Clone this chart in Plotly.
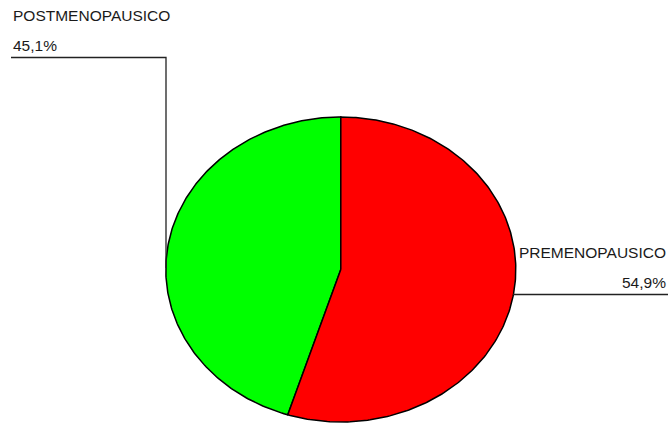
import numpy as np
import plotly.graph_objects as go

# Menopausal status distribution (%)
categories = ["POSTMENOPAUSICO", "PREMENOPAUSICO"]
percentages = [45.1, 54.9]
slice_colors = ["#00ff00", "#ff0000"]

W, H = 672, 424
# Elliptical pie placement, in page pixels
cx, cy = 340.8, 269.5
rx, ry = 175.0, 152.5

fig = go.Figure()

total = sum(percentages)
start = 0.0  # fraction of a turn, counter-clockwise from 12 o'clock
for name, val, col in zip(categories, percentages, slice_colors):
    frac = val / total
    t = np.linspace(start, start + frac, 240) * 2 * np.pi
    xs = np.concatenate([[cx], cx - rx * np.sin(t), [cx]])
    ys = np.concatenate([[cy], cy - ry * np.cos(t), [cy]])
    fig.add_trace(go.Scatter(
        x=xs, y=ys, mode="lines", fill="toself", fillcolor=col,
        line=dict(color="black", width=1.5), name=name,
        hoverinfo="name", showlegend=False,
    ))
    start += frac


def fmt(v):
    return f"{v:.1f}%".replace(".", ",")


# Leader lines
fig.add_trace(go.Scatter(
    x=[11, 166, 166], y=[57.5, 57.5, 268], mode="lines",
    line=dict(color="#222222", width=1.3), hoverinfo="skip", showlegend=False,
))
fig.add_trace(go.Scatter(
    x=[513, 668], y=[294.5, 294.5], mode="lines",
    line=dict(color="#222222", width=1.3), hoverinfo="skip", showlegend=False,
))

font = dict(family="Liberation Sans, Arial, sans-serif", size=15.5, color="#1a1a1a")
fig.add_annotation(x=11, y=15.5, text=categories[0], showarrow=False,
                   xanchor="left", yanchor="middle", font=font)
fig.add_annotation(x=11, y=45, text=fmt(percentages[0]), showarrow=False,
                   xanchor="left", yanchor="middle", font=font)
fig.add_annotation(x=668, y=252, text=categories[1], showarrow=False,
                   xanchor="right", yanchor="middle", font=font)
fig.add_annotation(x=668, y=282, text=fmt(percentages[1]), showarrow=False,
                   xanchor="right", yanchor="middle", font=font)

fig.update_xaxes(range=[0, W], visible=False, fixedrange=True)
fig.update_yaxes(range=[H, 0], visible=False, fixedrange=True)
fig.update_layout(
    width=W, height=H, margin=dict(l=0, r=0, t=0, b=0),
    paper_bgcolor="white", plot_bgcolor="white",
)

fig.write_html("out.html")
